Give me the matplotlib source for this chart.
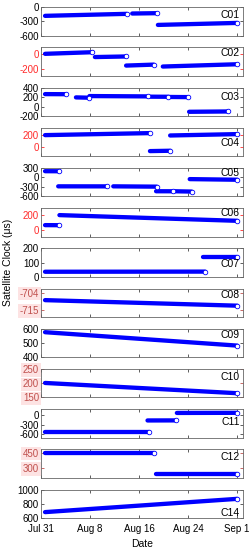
import matplotlib
matplotlib.use("Agg")
import matplotlib.pyplot as plt

plt.rcParams["font.family"] = ["Liberation Sans", "DejaVu Sans"]
plt.rcParams["axes.unicode_minus"] = False

# x axis: days counted from Jul 31
tick_days = [0, 8, 16, 24, 32]
tick_labels = ["Jul 31", "Aug 8", "Aug 16", "Aug 24", "Sep 1"]

# each segment: (start day, end day, start value, end value) in microseconds
C01 = [(0.65, 14.0, -183, -141), (14.9, 18.9, -134, -127), (19.1, 32.05, -374, -332)]
C02 = [(0.65, 8.4, 0, 22), (8.8, 13.9, -44, -36), (13.9, 18.4, -160, -147), (19.9, 32.05, -173, -142)]
C03 = [(0.65, 4.0, 262, 260), (5.7, 7.9, 193, 186), (7.9, 17.5, 221, 214),
       (17.9, 20.8, 208, 206), (20.9, 24.05, 202, 199), (24.2, 30.6, -110, -103)]
C04 = [(0.65, 17.8, 206, 240), (17.8, 21.1, -63, -57), (21.1, 32.05, 200, 223)]
C05 = [(0.65, 3.0, 198, 196), (2.8, 10.8, -280, -281), (11.8, 18.9, -280, -290),
       (18.8, 21.5, -435, -436), (21.7, 24.6, -435, -445), (24.3, 32.05, -52, -72)]
C06 = [(0.65, 3.0, 68, 67), (3.0, 32.05, 205, 127)]
C07 = [(0.65, 26.8, 36, 37), (26.5, 32.05, 139, 139)]
C08 = [(0.65, 32.05, -708.8, -712.3)]
C09 = [(0.65, 32.05, 576, 482)]
C10 = [(0.65, 32.05, 201, 165)]
C11 = [(0.65, 17.6, -548, -548), (17.4, 22.0, -170, -168), (22.2, 32.05, 70, 74)]
C12 = [(0.65, 18.5, 450, 450), (18.8, 32.05, 244, 244)]
C14 = [(0.65, 32.05, 684, 870)]

sats = ["C01", "C02", "C03", "C04", "C05", "C06", "C07",
        "C08", "C09", "C10", "C11", "C12", "C14"]
segments = [C01, C02, C03, C04, C05, C06, C07, C08, C09, C10, C11, C12, C14]
yticks = [[0, -300, -600], [0, -200], [400, 200, 0, -200], [200, 0],
          [300, 0, -300, -600], [200, 0], [200, 100, 0], [-704, -715],
          [600, 500, 400], [250, 200, 150], [0, -300, -600], [450, 300],
          [1000, 800, 600]]
ylims = [(-600, 0), (-300, 88), (-200, 400), (-150, 330), (-600, 300),
         (-90, 300), (0, 200), (-719.5, -701.5), (400, 600), (150, 250),
         (-720, 190), (205, 482), (600, 1000)]

# styling per panel
name_y = [0.72, 0.80, 0.66, 0.46, 0.83, 0.83, 0.45, 0.77, 0.78, 0.72, 0.55, 0.74, 0.18]
label_color = ["black", "#ff2a2a", "black", "#ff2a2a", "black", "#ff2a2a", "black",
               "#c0504d", "black", "#c0504d", "black", "#c0504d", "black"]
pink_bg = [False] * 7 + [True, False, True, False, True, False]

blue = "#0000ff"

fig, axes = plt.subplots(len(sats), 1, figsize=(2.52, 5.5), dpi=100, sharex=True)
fig.subplots_adjust(left=0.163, right=0.964, top=0.987, bottom=0.058, hspace=0.41)

for i, ax in enumerate(axes):
    for x0, x1, y0, y1 in segments[i]:
        ax.plot([x0, x1], [y0, y1], color=blue, linewidth=3.1, solid_capstyle="round", zorder=2)
        ax.plot([x1], [y1], marker="o", markersize=3.3, markerfacecolor="white",
                markeredgecolor=blue, markeredgewidth=0.6, zorder=3)

    ax.set_ylim(*ylims[i])
    ax.set_yticks(yticks[i])
    ax.set_xlim(0, 33)
    ax.set_xticks(tick_days)
    ax.tick_params(direction="in", length=2.5, width=0.6, top=True, right=True,
                   labelsize=7, pad=1.5, colors="#444444")
    ax.tick_params(axis="y", labelcolor=label_color[i])
    if label_color[i] != "black":
        ax.tick_params(axis="y", which="both", left=True, color=label_color[i])
    for s in ax.spines.values():
        s.set_color("#666666")
        s.set_linewidth(0.6)
    if pink_bg[i]:
        for lab in ax.get_yticklabels():
            lab.set_bbox(dict(facecolor="#fde3e3", edgecolor="none", pad=1.2))
    ax.text(0.985, name_y[i], sats[i], transform=ax.transAxes, ha="right", va="center",
            fontsize=7.5, color="black")

axes[-1].set_xticklabels(tick_labels)
axes[-1].tick_params(axis="x", labelcolor="black", pad=4)
axes[-1].set_xlabel("Date", fontsize=7.5, labelpad=3.5)
fig.text(0.03, 0.523, "Satellite Clock (\u03bcs)", rotation=90, ha="center", va="center", fontsize=7.5)

fig.savefig("out.png", dpi=100, facecolor="white")
